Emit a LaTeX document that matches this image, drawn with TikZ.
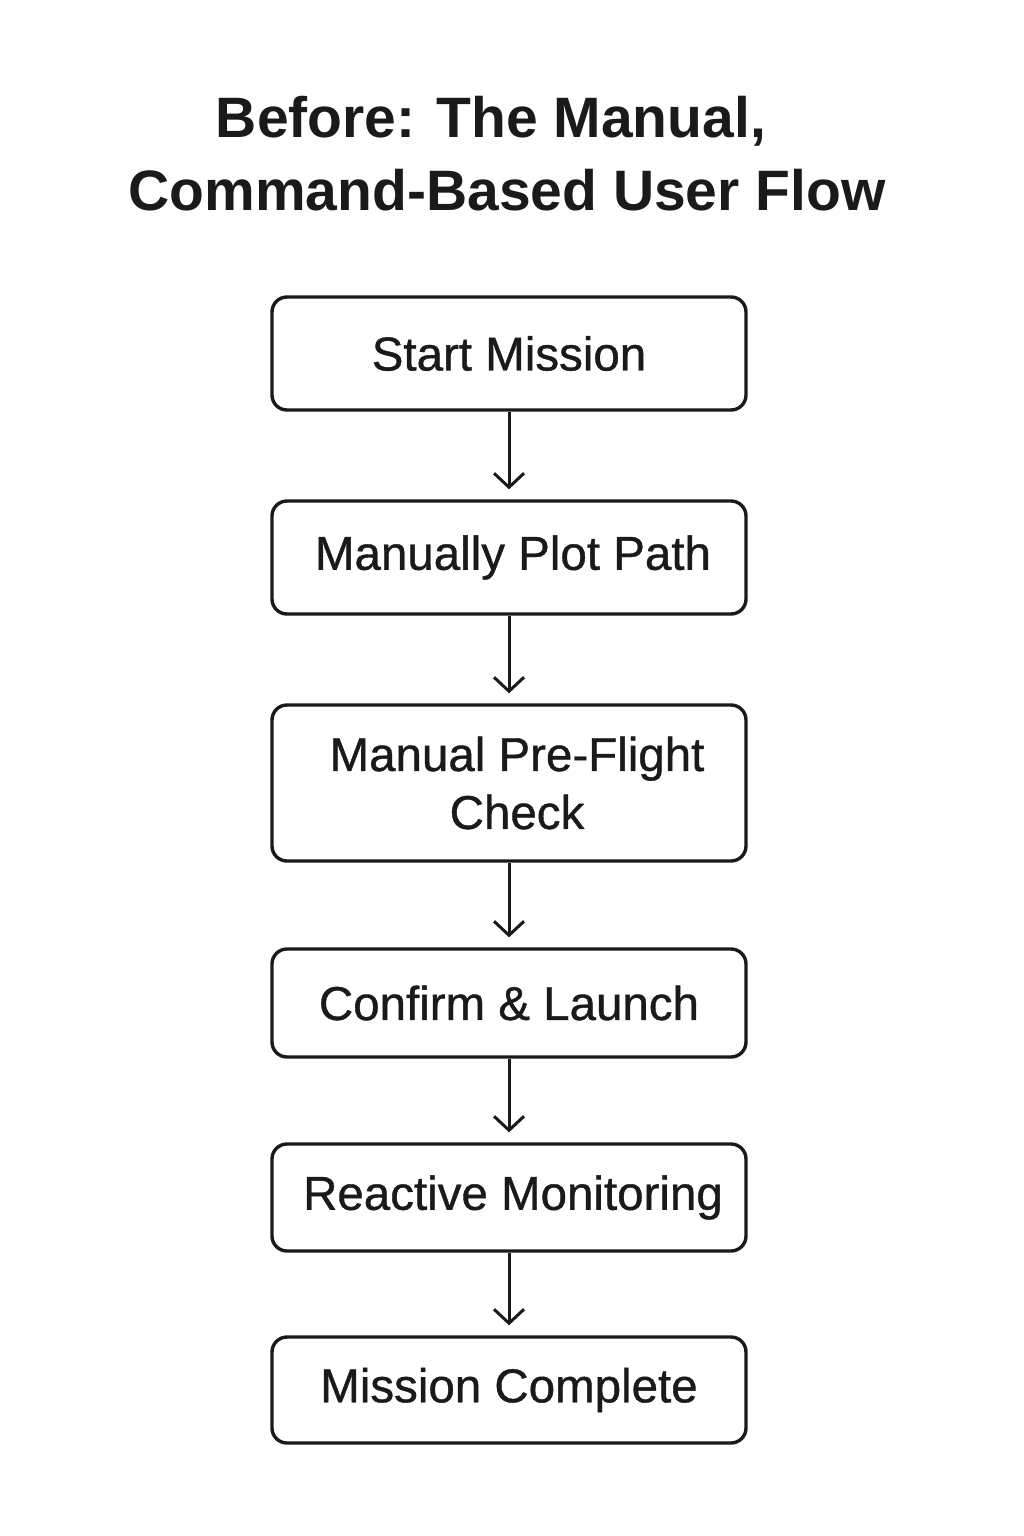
\documentclass[tikz,border=0pt]{standalone}
\usepackage{fontspec}
\setmainfont{Liberation Sans}
\newfontfamily\boxfont{Liberation Sans}[FakeBold=0.8]
\usetikzlibrary{arrows.meta}
\definecolor{ink}{HTML}{1A1A1A}
\begin{document}
\begin{tikzpicture}[x=1pt,y=-1pt,
  stepbox/.style={draw=ink, line width=3.4pt, rounded corners=15pt, minimum width=474pt, inner sep=0pt, align=center, font=\boxfont\fontsize{47.5}{58}\selectfont, text=ink},
  flow/.style={draw=ink, line width=3pt, shorten >=10pt, -{Straight Barb[length=14pt,width=30pt,line width=3pt]}},
  ttl/.style={font=\bfseries\fontsize{57}{68}\selectfont, text=ink, inner sep=0pt}]
\useasboundingbox (0,0) rectangle (1024,1536);
\node[ttl] (t1) at (491,121) {Before: The Manual,};
\node[ttl] (t2) at (507,190) {Command-Based User Flow};
\node[stepbox, minimum height=113pt] (b1) at (509,353.5) {Start Mission};
\node[stepbox, minimum height=113pt] (b2) at (509,557.5) {\hspace*{8pt}Manually Plot Path};
\node[stepbox, minimum height=156pt] (b3) at (509,783) {\hspace*{16pt}Manual Pre-Flight\\\hspace*{16pt}Check};
\node[stepbox, minimum height=108pt] (b4) at (509,1003) {Confirm \& Launch};
\node[stepbox, minimum height=107pt] (b5) at (509,1197.5) {\hspace*{8pt}Reactive Monitoring};
\node[stepbox, minimum height=106pt] (b6) at (509,1390) {Mission Complete};
\draw[flow] (b1.south) -- (b2.north);
\draw[flow] (b2.south) -- (b3.north);
\draw[flow] (b3.south) -- (b4.north);
\draw[flow] (b4.south) -- (b5.north);
\draw[flow] (b5.south) -- (b6.north);
\end{tikzpicture}
\end{document}
